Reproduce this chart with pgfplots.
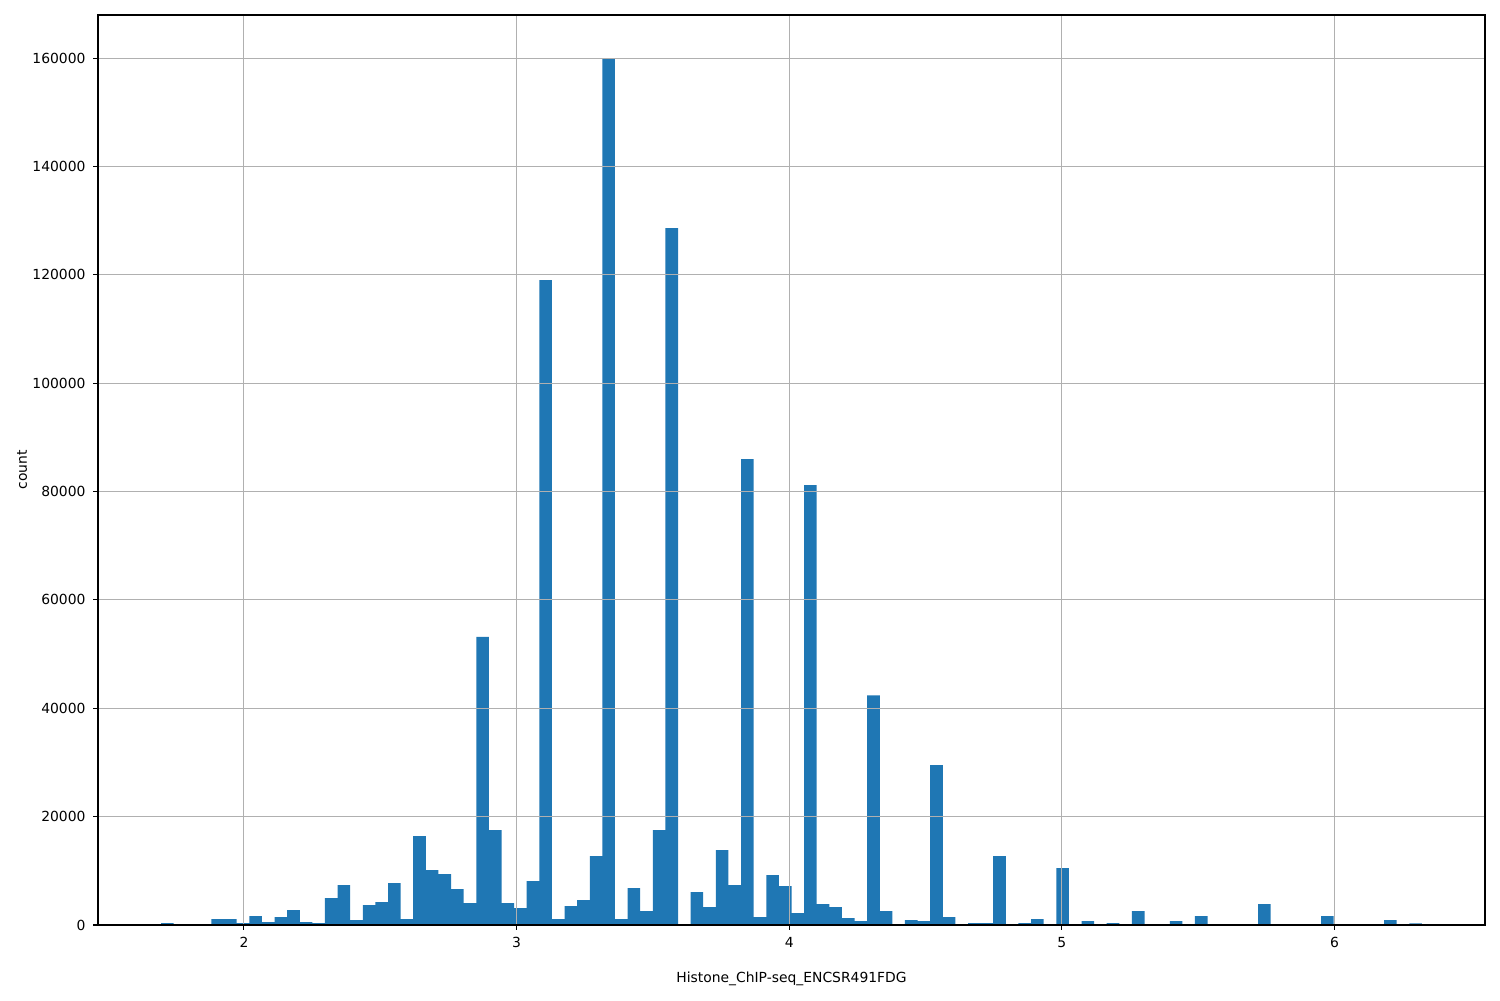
\documentclass[border=0pt]{standalone}
\usepackage{fontspec}
\setmainfont{DejaVu Sans}
\usepackage{pgfplots}
\pgfplotsset{compat=1.18}
\usetikzlibrary{calc}
\definecolor{histblue}{RGB}{31,119,180}
\definecolor{gridgray}{RGB}{176,176,176}

% histogram: left bin edge, count (last row closes the final bin)
\pgfplotstableread{
x count
1.69600 370
1.74225 0
1.78850 0
1.83475 0
1.88100 1100
1.92725 1100
1.97350 370
2.01975 1660
2.06600 550
2.11225 1480
2.15850 2770
2.20475 550
2.25100 370
2.29725 4980
2.34350 7380
2.38975 920
2.43600 3690
2.48225 4240
2.52850 7750
2.57475 1110
2.62100 16420
2.66725 10150
2.71350 9410
2.75975 6640
2.80600 4060
2.85225 53200
2.89850 17530
2.94475 4060
2.99100 3140
3.03725 8120
3.08350 119000
3.12975 1110
3.17600 3500
3.22225 4610
3.26850 12730
3.31475 159800
3.36100 1110
3.40725 6830
3.45350 2580
3.49975 17530
3.54600 128600
3.59225 0
3.63850 6090
3.68475 3320
3.73100 13840
3.77725 7380
3.82350 86000
3.86975 1480
3.91600 9230
3.96225 7200
4.00850 2210
4.05475 81200
4.10100 3880
4.14725 3320
4.19350 1290
4.23975 740
4.28600 42400
4.33225 2580
4.37850 0
4.42475 920
4.47100 740
4.51725 29500
4.56350 1480
4.60975 0
4.65600 370
4.70225 370
4.74850 12730
4.79475 0
4.84100 370
4.88725 1110
4.93350 0
4.97975 10520
5.02600 0
5.07225 740
5.11850 0
5.16475 370
5.21100 0
5.25725 2580
5.30350 0
5.34975 0
5.39600 740
5.44225 0
5.48850 1660
5.53475 0
5.58100 0
5.62725 0
5.67350 0
5.71975 3880
5.76600 0
5.81225 0
5.85850 0
5.90475 0
5.95100 1660
5.99725 0
6.04350 0
6.08975 0
6.13600 0
6.18225 920
6.22850 0
6.27475 300
6.32100 0
}\histdata

\begin{document}
\begin{tikzpicture}
\begin{axis}[
    name=ax,
    scale only axis,
    width=998.6pt,
    height=655.2pt,
    xmin=1.4647, xmax=6.5523,
    ymin=0, ymax=167950,
    xtick={2,3,4,5,6},
    ytick={0,20000,...,160000},
    scaled y ticks=false,
    /pgf/number format/fixed,
    /pgf/number format/1000 sep={},
    /pgf/number format/assume math mode=true,
    tick align=outside,
    tick pos=left,
    major tick length=3.5pt,
    every tick/.style={black, line width=0.8pt},
    axis line style={line width=0.8pt},
    grid=major,
    major grid style={gridgray, line width=0.8pt},
    axis on top,
    font=\fontsize{10}{12}\selectfont,
    xticklabel style={yshift=-2pt},
    yticklabel style={xshift=-2pt},
    xlabel={Histone\_ChIP-seq\_ENCSR491FDG},
    ylabel={count},
    xlabel style={at={(axis description cs:0.5,-0.0593)}, anchor=center},
    ylabel style={at={(axis description cs:-0.0548,0.5)}, anchor=center},
]
\addplot[ybar interval, fill=histblue, draw=none] table[x=x, y=count] {\histdata};
\end{axis}
\path ($(ax.south west)+(-70.56pt,-54pt)$) rectangle ($(ax.north east)+(10.8pt,10.8pt)$);
\end{tikzpicture}
\end{document}
